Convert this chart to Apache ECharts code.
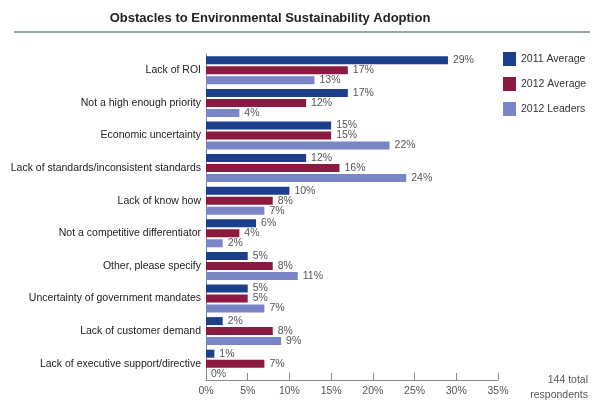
<!DOCTYPE html>
<html><head><meta charset="utf-8">
<script src="https://cdn.jsdelivr.net/npm/echarts@6/dist/echarts.min.js"></script>
<style>html,body{margin:0;padding:0;background:#fff}#c{width:600px;height:405px}</style>
</head><body><div id="c"></div>
<script>
const categories = ["Lack of ROI","Not a high enough priority","Economic uncertainty","Lack of standards/inconsistent standards","Lack of know how","Not a competitive differentiator","Other, please specify","Uncertainty of government mandates","Lack of customer demand","Lack of executive support/directive"];
const avg2011 = [29,17,15,12,10,6,5,5,2,1];
const avg2012 = [17,12,15,16,8,4,8,5,8,7];
const leaders2012 = [13,4,22,24,7,2,11,7,9,0];
const seriesNames = ["2011 Average","2012 Average","2012 Leaders"];
const colors = ["#1c3f8c","#8c1a40","#7985c6"];
const xTicks = {min:0,max:35,interval:5};

const font = "'Liberation Sans', Arial, Helvetica, sans-serif";
const chart = echarts.init(document.getElementById('c'));
const mk = (name, data, i) => ({
  name, type:'bar', data, barWidth:8, barGap:'25%',
  itemStyle:{color:colors[i]},
  label:{show:true, position:'right', distance:5, formatter:'{c}%', color:'#555', fontSize:10.5, fontFamily:font},
  emphasis:{disabled:true}, animation:false
});
chart.setOption({
  animation:false,
  textStyle:{fontFamily:font},
  title:{text:'Obstacles to Environmental Sustainability Adoption', left:265, textAlign:'center', top:7,
    textStyle:{fontSize:13, fontWeight:'bold', color:'#222', fontFamily:font}},
  graphic:[
    {type:'line', shape:{x1:14,y1:32,x2:590,y2:32}, style:{stroke:'#6f8a80', lineWidth:1.5}},
    {type:'text', style:{text:'144 total', x:588, y:380, textAlign:'right', textVerticalAlign:'middle', fill:'#555', font:'10.5px '+font}},
    {type:'text', style:{text:'respondents', x:588, y:395, textAlign:'right', textVerticalAlign:'middle', fill:'#555', font:'10.5px '+font}}
  ],
  legend:{orient:'vertical', left:498, top:47, itemWidth:13, itemHeight:14, itemGap:11, icon:'rect',
    textStyle:{fontSize:10.5, color:'#333', fontFamily:font}, data:seriesNames},
  grid:{left:206, right:102, top:54, bottom:25, containLabel:false},
  xAxis:{type:'value', min:xTicks.min, max:xTicks.max, interval:xTicks.interval,
    axisLine:{show:true, lineStyle:{color:'#888'}},
    axisTick:{show:true, inside:true, length:7, lineStyle:{color:'#888'}},
    splitLine:{show:false},
    axisLabel:{formatter:'{value}%', color:'#555', fontSize:10.5, margin:6, fontFamily:font}},
  yAxis:{type:'category', data:categories, inverse:true,
    axisLine:{show:true, lineStyle:{color:'#888'}}, axisTick:{show:false},
    axisLabel:{color:'#222', fontSize:10.5, margin:5, padding:[4,0,0,0], fontFamily:font}},
  series:[mk(seriesNames[0],avg2011,0), mk(seriesNames[1],avg2012,1), mk(seriesNames[2],leaders2012,2)]
});
</script></body></html>
